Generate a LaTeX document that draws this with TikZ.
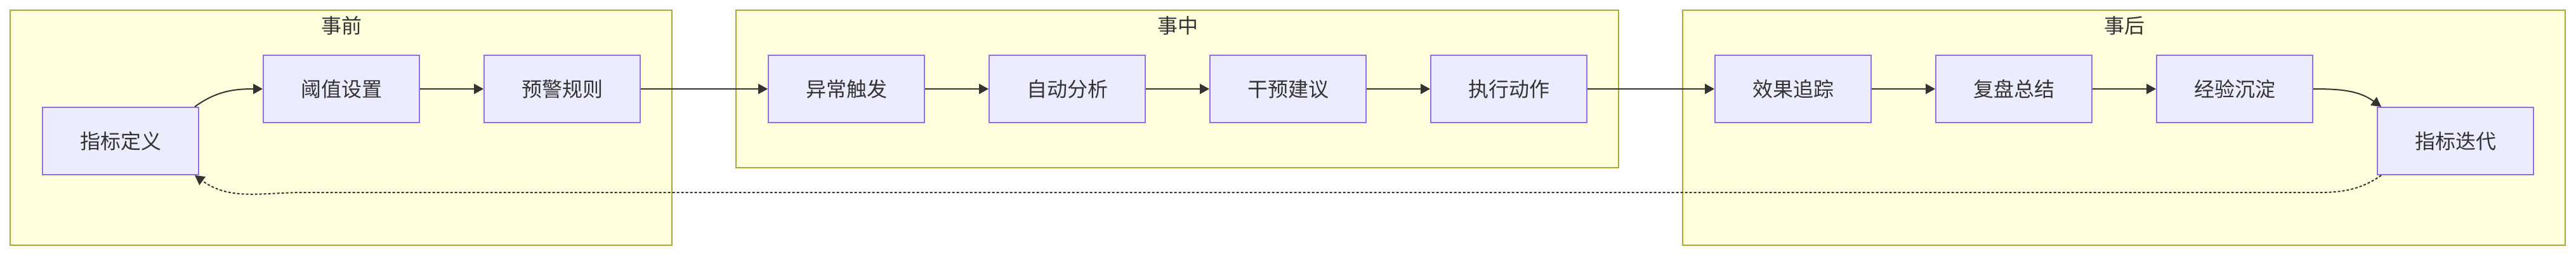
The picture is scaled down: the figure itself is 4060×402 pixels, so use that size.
\documentclass[tikz,border=0pt]{standalone}
\usepackage{fontspec}
\newfontfamily\cjk{Noto Sans CJK SC}
\usetikzlibrary{arrows.meta,calc}
\definecolor{clfill}{HTML}{FFFFDE}
\definecolor{clline}{HTML}{AAAA33}
\definecolor{ndfill}{HTML}{ECECFF}
\definecolor{ndline}{HTML}{9370DB}
\definecolor{ink}{HTML}{333333}
\begin{document}
\begin{tikzpicture}[x=1pt,y=1pt,
  cluster/.style={draw=clline,fill=clfill,line width=2pt},
  ctitle/.style={text=ink,font=\cjk\fontsize{32}{38}\selectfont,inner sep=0pt},
  box/.style={draw=ndline,fill=ndfill,line width=2pt,minimum width=246pt,minimum height=106pt,inner sep=0pt,text=ink,font=\cjk\fontsize{32}{38}\selectfont},
  flow/.style={draw=ink,line width=2pt,-{Triangle[length=15pt,width=16pt]}},
  back/.style={flow,dash pattern=on 4pt off 3pt}]
\useasboundingbox (0,0) rectangle (4060,-402);
\fill[white] (0,0) rectangle (4060,-402);
% clusters
\draw[cluster] (15.5,-15.7) rectangle (1059,-385.7);
\draw[cluster] (1160.3,-15.7) rectangle (2551,-263.7);
\draw[cluster] (2652,-15.7) rectangle (4043,-385.7);
\node[ctitle] (t1) at (538,-40) {事前};
\node[ctitle] (t2) at (1856,-40) {事中};
\node[ctitle] (t3) at (3348,-40) {事后};
% nodes
\node[box] (n1) at (190,-222) {指标定义};
\node[box] (n2) at (538,-140) {阈值设置};
\node[box] (n3) at (886,-140) {预警规则};
\node[box] (n4) at (1334,-140) {异常触发};
\node[box] (n5) at (1682,-140) {自动分析};
\node[box] (n6) at (2030,-140) {干预建议};
\node[box] (n7) at (2378,-140) {执行动作};
\node[box] (n8) at (2826,-140) {效果追踪};
\node[box] (n9) at (3174,-140) {复盘总结};
\node[box] (n10) at (3522,-140) {经验沉淀};
\node[box] (n11) at (3870,-222) {指标迭代};
% edges
\draw[flow] ($(n1.north east)+(-7,0)$) to[out=36,in=180] (n2.west);
\draw[flow] (n2) -- (n3);
\draw[flow] (n3) -- (n4);
\draw[flow] (n4) -- (n5);
\draw[flow] (n5) -- (n6);
\draw[flow] (n6) -- (n7);
\draw[flow] (n7) -- (n8);
\draw[flow] (n8) -- (n9);
\draw[flow] (n9) -- (n10);
\draw[flow] (n10.east) to[out=0,in=144] ($(n11.north west)+(7,0)$);
\coordinate (d1) at (3620,-303);
\coordinate (d2) at (480,-303);
\draw[back] ($(n11.south west)+(7,0)$) to[out=215,in=0] (d1) -- (d2) to[out=180,in=-36] ($(n1.south east)+(-7,0)$);
\end{tikzpicture}
\end{document}
